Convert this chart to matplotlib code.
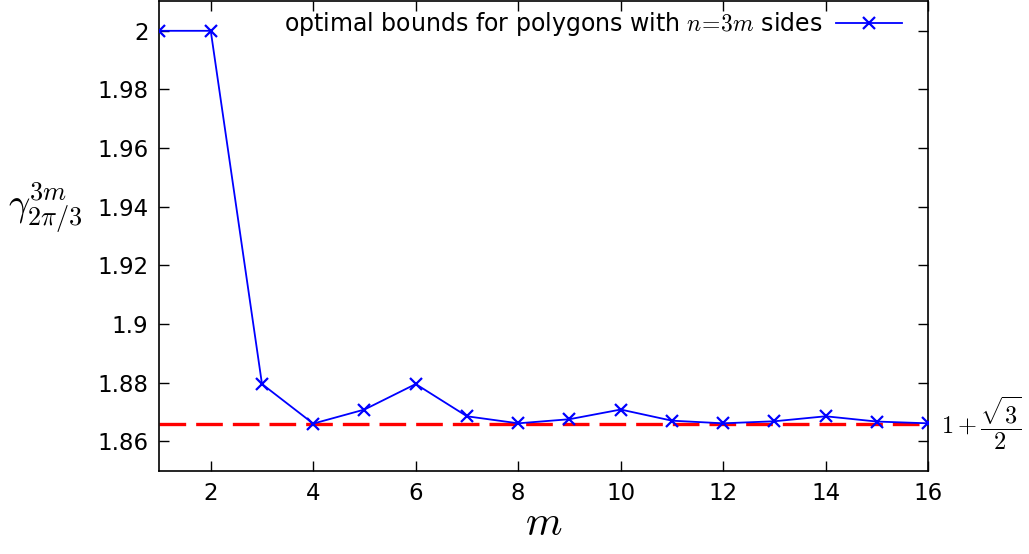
import numpy as np
import matplotlib
matplotlib.use("Agg")
import matplotlib.pyplot as plt

m_values = [1, 2, 3, 4, 5, 6, 7, 8, 9, 10, 11, 12, 13, 14, 15, 16]
gamma_values = [2.0, 2.0, 1.8795, 1.8660, 1.8708, 1.8795, 1.8685, 1.8661, 1.8675,
                1.8708, 1.8670, 1.8661, 1.8668, 1.8685, 1.8667, 1.8661]
x_ticks = [2, 4, 6, 8, 10, 12, 14, 16]
y_ticks = [1.86, 1.88, 1.9, 1.92, 1.94, 1.96, 1.98, 2.0]
y_tick_labels = ["1.86", "1.88", "1.9", "1.92", "1.94", "1.96", "1.98", "2"]
bound = 1 + np.sqrt(3) / 2

plt.rcParams['mathtext.fontset'] = 'cm'
plt.rcParams['font.family'] = ['DejaVu Sans']

fig = plt.figure(figsize=(10.29, 5.54), dpi=100)
ax = fig.add_axes([0.155, 0.1507, 0.747, 0.8466])

ax.axhline(bound, color='#ff0000', linestyle=(0, (8, 3)), linewidth=2.4, zorder=2)
ax.plot(m_values, gamma_values, color='#0000ff', linewidth=1.3, marker='x',
        markersize=8, markeredgewidth=1.6, zorder=3,
        label=r'optimal bounds for polygons with $n\!=\!3m$ sides')

ax.set_xlim(1, 16)
ax.set_ylim(1.85, 2.01)
ax.set_xticks(x_ticks)
ax.set_yticks(y_ticks)
ax.set_yticklabels(y_tick_labels)
ax.tick_params(direction='in', length=7, width=1.0, top=True, right=True,
               labelsize=16.5, pad=8)
for s in ax.spines.values():
    s.set_linewidth(1.2)

ax.set_xlabel(r'$m$', fontsize=30, labelpad=-2)
ax.text(-0.149, 0.56, r'$\gamma_{2\pi/3}^{3m}$', transform=ax.transAxes,
        fontsize=27, ha='center', va='center')
ax.text(1.017, bound, r'$1+\dfrac{\sqrt{3}}{2}$', transform=ax.get_yaxis_transform(),
        fontsize=17.5, ha='left', va='center')

leg = ax.legend(loc='upper right', frameon=False, markerfirst=False, fontsize=17,
                handlelength=2.8, borderaxespad=0.2, handletextpad=0.6,
                bbox_to_anchor=(0.985, 1.012))

fig.savefig('out.png', dpi=100)
